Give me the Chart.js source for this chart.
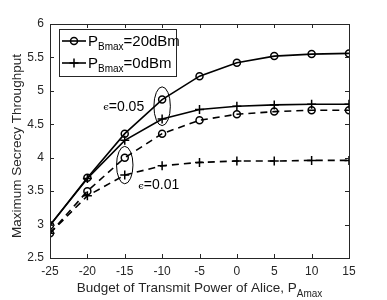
<!DOCTYPE html>
<html>
<head>
<meta charset="utf-8">
<script src="https://cdn.jsdelivr.net/npm/chart.js@4/dist/chart.umd.min.js"></script>
<style>
	html, body { margin: 0; padding: 0; background: #fff; }
	#wrap { width: 387px; height: 300px; }
</style>
</head>
<body>
<div id="wrap"><canvas id="chart"></canvas></div>
<script>
const X_VALUES = [-25, -20, -15, -10, -5, 0, 5, 10, 15];
const B20_EPS005 = [2.99, 3.70, 4.36, 4.87, 5.22, 5.42, 5.52, 5.55, 5.56];
const B0_EPS005 = [2.99, 3.69, 4.26, 4.58, 4.72, 4.77, 4.79, 4.80, 4.80];
const B20_EPS001 = [2.87, 3.50, 4.00, 4.36, 4.56, 4.65, 4.69, 4.71, 4.71];
const B0_EPS001 = [2.87, 3.43, 3.74, 3.88, 3.93, 3.95, 3.95, 3.96, 3.96];

const X_TICKS = [-25, -20, -15, -10, -5, 0, 5, 10, 15];
const Y_TICKS = [2.5, 3, 3.5, 4, 4.5, 5, 5.5, 6];

const LEGEND_MAIN = ['P', 'P'];
const LEGEND_SUB = ['Bmax', 'Bmax'];
const LEGEND_TAIL = ['=20dBm', '=0dBm'];

// ellipses around the pairs of points: centre x, centre y, half width, half height (data units)
const ELLIPSE_X = [-10, -15];
const ELLIPSE_Y = [4.77, 3.89];
const ELLIPSE_RX = [1.1, 1.1];
const ELLIPSE_RY = [0.29, 0.28];

const NOTE_EPS = ['\u03f5', '\u03f5'];
const NOTE_TEXT = ['=0.05', '=0.01'];
const NOTE_X = [-12.4, -13.2];
const NOTE_Y = [4.76, 3.59];
const NOTE_ALIGN = ['right', 'left'];

const X_TITLE = 'Budget of Transmit Power of Alice, P';
const X_TITLE_SUB = 'Amax';
const Y_TITLE = 'Maximum Secrecy Throughput';

const INK = '#262626';
const FONT = '"Liberation Sans", Arial, sans-serif';

const toPoints = arr => X_VALUES.map((x, i) => ({x, y: arr[i]}));

function series(data, marker, dashed) {
	return {
		data: toPoints(data),
		borderColor: '#000',
		borderWidth: 1.6,
		borderDash: dashed ? [7, 5] : [],
		pointStyle: marker,
		pointRadius: marker === 'circle' ? 3.5 : 4.5,
		pointBorderWidth: 1.5,
		pointBorderColor: '#000',
		pointBackgroundColor: 'rgba(0,0,0,0)',
		tension: 0,
		fill: false
	};
}

function drawMarker(ctx, style, x, y) {
	ctx.save();
	ctx.strokeStyle = '#000';
	ctx.lineWidth = 1.5;
	ctx.beginPath();
	if (style === 'circle') {
		ctx.arc(x, y, 3.5, 0, Math.PI * 2);
	} else {
		ctx.moveTo(x - 4.5, y); ctx.lineTo(x + 4.5, y);
		ctx.moveTo(x, y - 4.5); ctx.lineTo(x, y + 4.5);
	}
	ctx.stroke();
	ctx.restore();
}

const decorations = {
	id: 'decorations',
	afterDraw(chart) {
		const {ctx, chartArea: {left, right, top, bottom}, scales: {x, y}} = chart;
		ctx.save();

		// box with inward ticks
		ctx.strokeStyle = INK;
		ctx.lineWidth = 1;
		ctx.strokeRect(left + 0.5, top + 0.5, right - left, bottom - top);
		ctx.beginPath();
		X_TICKS.forEach(v => {
			const px = Math.round(x.getPixelForValue(v)) + 0.5;
			ctx.moveTo(px, bottom); ctx.lineTo(px, bottom - 4);
			ctx.moveTo(px, top); ctx.lineTo(px, top + 4);
		});
		Y_TICKS.forEach(v => {
			const py = Math.round(y.getPixelForValue(v)) + 0.5;
			ctx.moveTo(left, py); ctx.lineTo(left + 4, py);
			ctx.moveTo(right, py); ctx.lineTo(right - 4, py);
		});
		ctx.stroke();

		// ellipses
		ctx.strokeStyle = '#000';
		ctx.lineWidth = 1;
		ELLIPSE_X.forEach((cx, i) => {
			const px = x.getPixelForValue(cx);
			const py = y.getPixelForValue(ELLIPSE_Y[i]);
			const rx = Math.abs(x.getPixelForValue(cx + ELLIPSE_RX[i]) - px);
			const ry = Math.abs(y.getPixelForValue(ELLIPSE_Y[i] + ELLIPSE_RY[i]) - py);
			ctx.beginPath();
			ctx.ellipse(px, py, rx, ry, 0, 0, Math.PI * 2);
			ctx.stroke();
		});

		// notes: small lunate epsilon followed by the value
		ctx.fillStyle = '#000';
		ctx.textBaseline = 'middle';
		ctx.textAlign = 'left';
		NOTE_TEXT.forEach((t, i) => {
			ctx.font = '10px "DejaVu Serif", serif';
			const ew = ctx.measureText(NOTE_EPS[i]).width;
			ctx.font = '14px ' + FONT;
			const tw = ctx.measureText(t).width;
			let sx = x.getPixelForValue(NOTE_X[i]);
			if (NOTE_ALIGN[i] === 'right') sx -= ew + tw;
			const sy = y.getPixelForValue(NOTE_Y[i]);
			ctx.font = '10px "DejaVu Serif", serif';
			ctx.fillText(NOTE_EPS[i], sx, sy + 1);
			ctx.font = '14px ' + FONT;
			ctx.fillText(t, sx + ew, sy);
		});

		// legend
		const lx = 59, ly = 29, lw = 117, lh = 47;
		ctx.fillStyle = '#fff';
		ctx.fillRect(lx, ly, lw, lh);
		ctx.strokeStyle = INK;
		ctx.strokeRect(lx + 0.5, ly + 0.5, lw, lh);
		const rows = [41, 63];
		const markers = ['circle', 'cross'];
		rows.forEach((ry, i) => {
			ctx.strokeStyle = '#000';
			ctx.lineWidth = 1.6;
			ctx.setLineDash([]);
			ctx.beginPath();
			ctx.moveTo(lx + 3, ry); ctx.lineTo(lx + 27, ry);
			ctx.stroke();
			drawMarker(ctx, markers[i], lx + 15, ry);
			ctx.fillStyle = '#000';
			ctx.textAlign = 'left';
			ctx.textBaseline = 'alphabetic';
			let tx = lx + 29;
			ctx.font = '15px ' + FONT;
			ctx.fillText(LEGEND_MAIN[i], tx, ry + 5);
			tx += ctx.measureText(LEGEND_MAIN[i]).width;
			ctx.font = '10px ' + FONT;
			ctx.fillText(LEGEND_SUB[i], tx, ry + 9);
			tx += ctx.measureText(LEGEND_SUB[i]).width;
			ctx.font = '15px ' + FONT;
			ctx.fillText(LEGEND_TAIL[i], tx, ry + 5);
		});

		// axis titles
		ctx.fillStyle = INK;
		ctx.font = '13.5px ' + FONT;
		const mainW = ctx.measureText(X_TITLE).width;
		ctx.font = '10px ' + FONT;
		const subW = ctx.measureText(X_TITLE_SUB).width;
		const startX = (left + right) / 2 - (mainW + subW) / 2;
		ctx.textAlign = 'left';
		ctx.font = '13.5px ' + FONT;
		ctx.fillText(X_TITLE, startX, 292);
		ctx.font = '10px ' + FONT;
		ctx.fillText(X_TITLE_SUB, startX + mainW, 297);

		ctx.translate(17, 146);
		ctx.rotate(-Math.PI / 2);
		ctx.textAlign = 'center';
		ctx.textBaseline = 'middle';
		ctx.font = '13.5px ' + FONT;
		ctx.fillText(Y_TITLE, 0, 0);
		ctx.restore();
	}
};

new Chart(document.getElementById('chart').getContext('2d'), {
	type: 'line',
	data: {
		datasets: [
			series(B20_EPS005, 'circle', false),
			series(B0_EPS005, 'cross', false),
			series(B20_EPS001, 'circle', true),
			series(B0_EPS001, 'cross', true)
		]
	},
	options: {
		responsive: true,
		maintainAspectRatio: false,
		animation: false,
		layout: {padding: {top: 24, right: 38, left: 0, bottom: 0}},
		plugins: {
			legend: {display: false},
			tooltip: {enabled: false}
		},
		scales: {
			x: {
				type: 'linear',
				min: -25,
				max: 15,
				afterBuildTicks: scale => { scale.ticks = X_TICKS.map(value => ({value})); },
				afterFit: scale => { scale.height = 42; },
				ticks: {color: INK, font: {family: FONT, size: 12}, padding: 6, maxRotation: 0,
					callback: value => String(value)},
				grid: {display: false, drawTicks: false},
				border: {display: false}
			},
			y: {
				min: 2.5,
				max: 6,
				afterBuildTicks: scale => { scale.ticks = Y_TICKS.map(value => ({value})); },
				afterFit: scale => { scale.width = 50; },
				ticks: {color: INK, font: {family: FONT, size: 12}, padding: 6,
					callback: value => String(value)},
				grid: {display: false, drawTicks: false},
				border: {display: false}
			}
		}
	},
	plugins: [decorations]
});
</script>
</body>
</html>
